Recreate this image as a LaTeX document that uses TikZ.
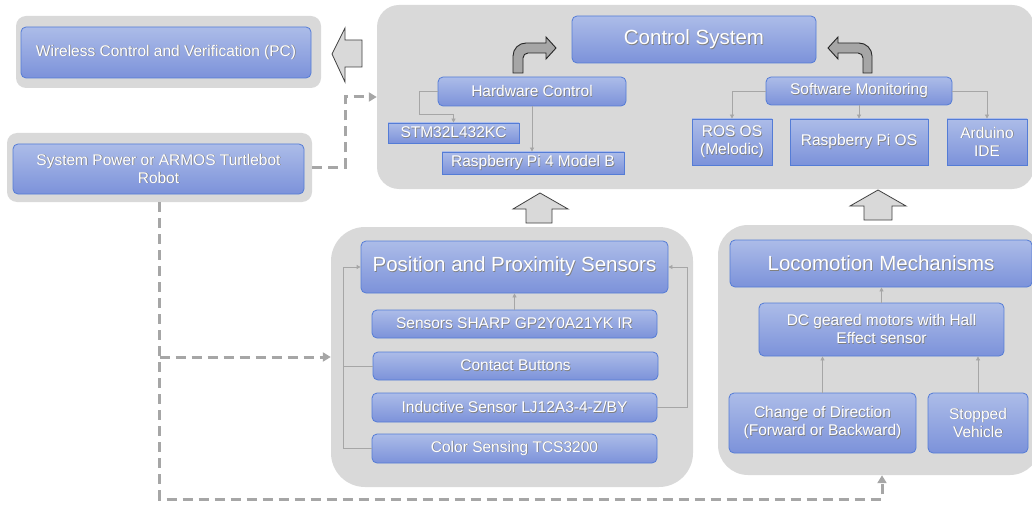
\documentclass[tikz,border=0pt]{standalone}
\usepackage{fontspec}
\setmainfont{Liberation Sans}
\usetikzlibrary{arrows.meta}

\definecolor{boxtop}{RGB}{172,188,232}
\definecolor{boxbot}{RGB}{124,146,218}
\definecolor{boxline}{RGB}{84,124,214}
\definecolor{panelgray}{RGB}{217,217,217}
\definecolor{linkgray}{RGB}{166,166,166}
\definecolor{arrowdark}{RGB}{64,64,64}

% white labels with a soft drop shadow
\newcommand{\shtxt}[1]{\makebox[0pt][l]{\hspace{0.7pt}\raisebox{-0.7pt}{\color{black!50}#1}}#1}
\newcommand{\medfont}{\fontsize{15.5}{18}\selectfont}
\newcommand{\bigfont}{\fontsize{20.5}{24}\selectfont}

\tikzset{
  panel/.style={fill=panelgray, rounded corners=#1, inner sep=0pt},
  panel/.default=20pt,
  unit/.style={draw=boxline, line width=0.8pt, top color=boxtop, bottom color=boxbot,
    rounded corners=5pt, text=white, align=center, inner sep=0pt, font=\medfont},
  flatunit/.style={unit, rounded corners=0pt},
  link/.style={draw=linkgray, line width=0.8pt, -{Triangle[length=4pt,width=4pt]}},
  dashlink/.style={draw=linkgray, line width=3pt, dash pattern=on 10pt off 6pt,
    -{Triangle[length=8pt,width=9pt]}},
  blockarrow/.style={draw=arrowdark, fill=panelgray, line width=0.8pt},
  bendarrow/.style={draw=black!85, fill=linkgray, line width=0.9pt},
}

\begin{document}
\begin{tikzpicture}[x=1pt,y=-1pt]
    \useasboundingbox (0,0) rectangle (1032,505);
    \clip (0,0) rectangle (1032,505);

    % grey panels
    \node[panel=10pt, minimum width=305, minimum height=72] (pcpanel) at (168.5,52) {};
    \node[panel=10pt, minimum width=305, minimum height=69] (powerpanel) at (159.5,167.5) {};
    \node[panel=22pt, minimum width=657, minimum height=184] (ctrlpanel) at (705.5,97) {};
    \node[panel=34pt, minimum width=362, minimum height=260] (senspanel) at (512,357) {};
    \node[panel=30pt, minimum width=322, minimum height=250] (locopanel) at (879,350) {};

    % block arrows between panels
    \draw[blockarrow] (362,40) -- (345,40) -- (345,28) -- (332,54) -- (345,82) -- (345,67) -- (362,67) -- cycle;
    \draw[blockarrow] (526,223) -- (526,209) -- (513,209) -- (540,193) -- (568,209) -- (552,209) -- (552,223) -- cycle;
    \draw[blockarrow] (864,220) -- (864,206) -- (850,206) -- (878,190) -- (906,206) -- (892,206) -- (892,220) -- cycle;

    % bent arrows into the control system
    \draw[bendarrow] (513,73) -- (513,56) arc (180:270:13) -- (546,43) -- (546,37) -- (556,48)
        -- (546,59) -- (546,53) -- (528,53) arc (270:180:5) -- (523,73) -- cycle;
    \draw[bendarrow] (872,73) -- (872,56) arc (0:-90:13) -- (838,43) -- (838,37) -- (828,48)
        -- (838,59) -- (838,53) -- (858,53) arc (-90:0:5) -- (863,73) -- cycle;

    % left column
    \node[unit, minimum width=290, minimum height=51] (pc) at (166,52.5)
        {\shtxt{Wireless Control and Verification (PC)}};
    \node[unit, minimum width=291, minimum height=50] (power) at (158.5,169)
        {\shtxt{System Power or ARMOS Turtlebot}\\\shtxt{Robot}};

    % control system
    \node[unit, font=\bigfont, minimum width=244, minimum height=47] (ctrl) at (694,39.5)
        {\shtxt{Control System}};
    \node[unit, minimum width=188, minimum height=29] (hwctrl) at (532,91.5)
        {\shtxt{Hardware Control}};
    \node[flatunit, minimum width=131, minimum height=20] (stm) at (453.5,133)
        {\shtxt{STM32L432KC}};
    \node[flatunit, minimum width=182, minimum height=22] (rpi4) at (533,163)
        {\shtxt{Raspberry Pi 4 Model B}};
    \node[unit, minimum width=186, minimum height=28] (swmon) at (859,91)
        {\shtxt{Software Monitoring}};
    \node[flatunit, minimum width=80, minimum height=46] (ros) at (732,142)
        {\shtxt{ROS OS}\\\shtxt{(Melodic)}};
    \node[flatunit, minimum width=138, minimum height=46] (rpios) at (859,142)
        {\shtxt{Raspberry Pi OS}};
    \node[flatunit, minimum width=80, minimum height=46] (arduino) at (987,142)
        {\shtxt{Arduino}\\\shtxt{IDE}};

    % sensors
    \node[unit, font=\bigfont, minimum width=307, minimum height=52] (pps) at (514.5,267)
        {\shtxt{Position and Proximity Sensors}};
    \node[unit, minimum width=285, minimum height=28] (sharp) at (514.5,324)
        {\shtxt{Sensors SHARP GP2Y0A21YK IR}};
    \node[unit, minimum width=285, minimum height=28] (contact) at (515.5,366)
        {\shtxt{Contact Buttons}};
    \node[unit, minimum width=285, minimum height=29] (inductive) at (514.5,407.5)
        {\shtxt{Inductive Sensor LJ12A3-4-Z/BY}};
    \node[unit, minimum width=285, minimum height=29] (color) at (514.5,448.5)
        {\shtxt{Color Sensing TCS3200}};

    % locomotion
    \node[unit, font=\bigfont, minimum width=302, minimum height=47] (loco) at (881,263.5)
        {\shtxt{Locomotion Mechanisms}};
    \node[unit, minimum width=245, minimum height=53] (motors) at (881.5,329.5)
        {\shtxt{DC geared motors with Hall}\\\shtxt{Effect sensor}};
    \node[unit, minimum width=187, minimum height=60] (direction) at (822.5,423)
        {\shtxt{Change of Direction}\\\shtxt{(Forward or Backward)}};
    \node[unit, minimum width=100, minimum height=60] (stopped) at (978,423)
        {\shtxt{Stopped}\\\shtxt{Vehicle}};

    % thin links
    \draw[link] (hwctrl.west) -- ++(-18,0) |- ([yshift=8pt]stm.north) -- (stm.north);
    \draw[link] (hwctrl.south) -- (hwctrl.south |- rpi4.north);
    \draw[link] (swmon.west) -| (ros.north);
    \draw[link] (swmon.south) -- (rpios.north);
    \draw[link] (swmon.east) -| (arduino.north);

    \coordinate (busL) at (343,0);
    \coordinate (busR) at (687,0);
    \draw[link] (sharp.north) -- (sharp.north |- pps.south);
    \draw[link] (color.west) -| (busL |- pps.west) -- (pps.west);
    \draw[draw=linkgray, line width=0.8pt] (contact.west) -- (contact.west -| busL);
    \draw[link] (inductive.east) -| (busR |- pps.east) -- (pps.east);

    \draw[link] (motors.north) -- (motors.north |- loco.south);
    \draw[link] (direction.north) -- (direction.north |- motors.south);
    \draw[link] (stopped.north) -- (stopped.north |- motors.south);

    % dashed power lines
    \coordinate (botline) at (0,499);
    \draw[dashlink] (powerpanel.east) -- ++(33,0) |- (ctrlpanel.west);
    \draw[dashlink] (powerpanel.south |- senspanel.west) -- (senspanel.west);
    \draw[dashlink] (powerpanel.south) |- ([xshift=3pt]locopanel.south |- botline) -- ([xshift=3pt]locopanel.south);

\end{tikzpicture}
\end{document}
